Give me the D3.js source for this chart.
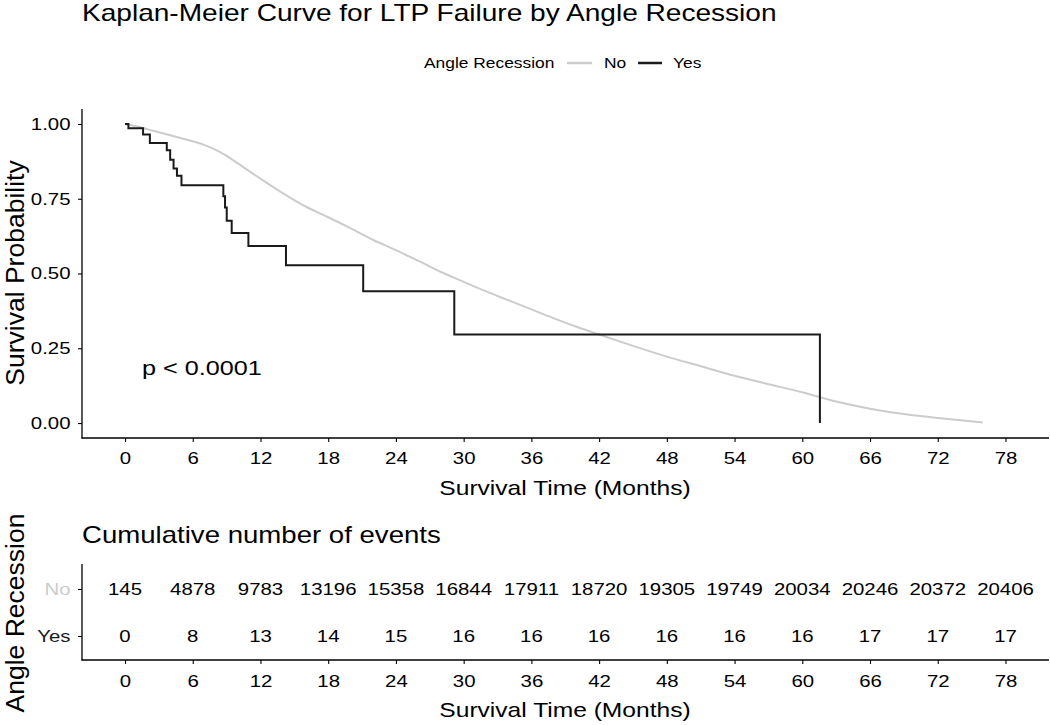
<!DOCTYPE html>
<html>
<head>
<meta charset="utf-8">
<script src="https://cdn.jsdelivr.net/npm/d3@7"></script>
<style>
  html, body { margin: 0; padding: 0; background: #fff; }
  svg { display: block; }
  text { font-family: "Liberation Sans", Arial, sans-serif; fill: #000; }
</style>
</head>
<body>
<svg id="chart" width="1050" height="725"></svg>
<script>
// ---------------- data ----------------
const monthTicks = [0, 6, 12, 18, 24, 30, 36, 42, 48, 54, 60, 66, 72, 78];
const probTicks = [0, 0.25, 0.5, 0.75, 1.0];
const probLabels = ["0.00", "0.25", "0.50", "0.75", "1.00"];
const groups = ["No", "Yes"];

// Angle Recession = Yes (Kaplan-Meier step points: time, survival after event)
const yesTime = [0, 0.3, 1.6, 2.2, 3.7, 4.0, 4.3, 4.6, 5.0, 8.71, 8.86, 9.01, 9.45, 10.93, 14.26, 21.1, 29.17, 61.56];
const yesSurv = [1.0, 0.986, 0.965, 0.936, 0.912, 0.880, 0.851, 0.827, 0.795, 0.758, 0.721, 0.676, 0.635, 0.592, 0.528, 0.441, 0.296, 0.0];

// Angle Recession = No (very large group, curve)
const noTime = [0, 1, 2, 3, 4, 5, 6, 7, 8, 9, 10, 12, 14, 16, 18, 20, 22, 24, 26, 28, 30, 32, 34, 36, 38, 40, 42, 45, 48, 51, 54, 57, 60, 63, 66, 69, 72, 76];
const noSurv = [1.0, 0.992, 0.982, 0.972, 0.962, 0.952, 0.942, 0.930, 0.914, 0.893, 0.868, 0.817, 0.768, 0.724, 0.688, 0.651, 0.612, 0.578, 0.542, 0.505, 0.472, 0.440, 0.410, 0.380, 0.350, 0.322, 0.296, 0.258, 0.222, 0.190, 0.158, 0.130, 0.103, 0.072, 0.048, 0.030, 0.017, 0.002];

// Cumulative number of events table
const noEvents = [145, 4878, 9783, 13196, 15358, 16844, 17911, 18720, 19305, 19749, 20034, 20246, 20372, 20406];
const yesEvents = [0, 8, 13, 14, 15, 16, 16, 16, 16, 16, 16, 17, 17, 17];

// ---------------- styles ----------------
const SX = 1.2;              // horizontal glyph stretch seen in the picture
const colNo = "#cccccc";
const colYes = "#1a1a1a";

const svg = d3.select("#chart");

function label(x, y, str, size, opts = {}) {
  const tr = opts.rotate ? `translate(${x},${y}) rotate(-90)` : `translate(${x},${y}) scale(${SX},1)`;
  const t = svg.append("text")
    .attr("transform", tr)
    .attr("font-size", size)
    .attr("text-anchor", opts.anchor || "start")
    .text(str);
  if (opts.fill) t.style("fill", opts.fill);
  return t;
}

// ---------------- scales ----------------
const x = d3.scaleLinear().domain([-3.9, 81.9]).range([81, 1049.5]);
const y = d3.scaleLinear().domain([-0.05, 1.05]).range([438, 109]);

// ---------------- title & legend ----------------
label(82, 21, "Kaplan-Meier Curve for LTP Failure by Angle Recession", 23.4);
label(424, 68, "Angle Recession", 14.5);
svg.append("line").attr("x1", 567).attr("x2", 592).attr("y1", 63).attr("y2", 63)
  .attr("stroke", colNo).attr("stroke-width", 2.5);
label(604, 68, "No", 14.5);
svg.append("line").attr("x1", 638).attr("x2", 662).attr("y1", 63).attr("y2", 63)
  .attr("stroke", colYes).attr("stroke-width", 2.5);
label(673, 68, "Yes", 14.5);

// ---------------- main panel ----------------
const gMain = svg.append("g");

const noData = noTime.map((t, i) => [t, noSurv[i]]);
const yesData = yesTime.map((t, i) => [t, yesSurv[i]]);

gMain.append("path")
  .datum(noData)
  .attr("fill", "none")
  .attr("stroke", colNo)
  .attr("stroke-width", 2)
  .attr("d", d3.line().x(d => x(d[0])).y(d => y(d[1])).curve(d3.curveMonotoneX));

gMain.append("path")
  .datum(yesData)
  .attr("fill", "none")
  .attr("stroke", colYes)
  .attr("stroke-width", 2)
  .attr("d", d3.line().x(d => x(d[0])).y(d => y(d[1])).curve(d3.curveStepAfter));

// axes
const xAxisMain = gMain.append("g").attr("transform", "translate(0,438)")
  .call(d3.axisBottom(x).tickValues(monthTicks).tickSize(4).tickPadding(10).tickFormat(d3.format("d")));
const yAxisMain = gMain.append("g").attr("transform", "translate(82,0)")
  .call(d3.axisLeft(y).tickValues(probTicks).tickSize(4).tickFormat((d, i) => probLabels[i]));

function styleAxis(g, orient, size) {
  g.select(".domain").remove();
  g.selectAll(".tick line").attr("stroke", "#000").attr("stroke-width", 1.1);
  g.selectAll(".tick text").attr("font-size", size).attr("font-family", null);
  g.selectAll(".tick text").each(function () {
    const t = d3.select(this);
    if (orient === "left") {
      t.attr("x", null).attr("transform", `translate(-11.5,0) scale(${SX},1)`);
    } else {
      t.attr("transform", `scale(${SX},1)`);
    }
  });
}
styleAxis(xAxisMain, "bottom", 17);
styleAxis(yAxisMain, "left", 17);

gMain.append("line").attr("x1", 82).attr("x2", 82).attr("y1", 109).attr("y2", 438.5)
  .attr("stroke", "#000").attr("stroke-width", 1.3);
gMain.append("line").attr("x1", 81.5).attr("x2", 1049).attr("y1", 438).attr("y2", 438)
  .attr("stroke", "#000").attr("stroke-width", 1.3);

// p value
label(142, 375, "p < 0.0001", 21);

// axis titles
label(565, 495, "Survival Time (Months)", 20.5, { anchor: "middle" });
label(24, 273, "Survival Probability", 26.5, { anchor: "middle", rotate: true });

// ---------------- cumulative events table ----------------
label(82, 543, "Cumulative number of events", 23);

const yT = d3.scalePoint().domain(groups).range([589, 636]);

const gTab = svg.append("g");
const tabRows = [noEvents, yesEvents];
groups.forEach((gname, gi) => {
  tabRows[gi].forEach((v, i) => {
    gTab.append("text")
      .attr("transform", `translate(${x(monthTicks[i])},${yT(gname) + 6}) scale(${SX},1)`)
      .attr("text-anchor", "middle")
      .attr("font-size", 17)
      .text(v);
  });
});

const xAxisTab = gTab.append("g").attr("transform", "translate(0,660)")
  .call(d3.axisBottom(x).tickValues(monthTicks).tickSize(4).tickPadding(11).tickFormat(d3.format("d")));
const yAxisTab = gTab.append("g").attr("transform", "translate(82,0)")
  .call(d3.axisLeft(yT).tickSize(4));
styleAxis(xAxisTab, "bottom", 17);
styleAxis(yAxisTab, "left", 17);
yAxisTab.selectAll(".tick text").style("fill", (d) => d === "No" ? colNo : colYes);

gTab.append("line").attr("x1", 82).attr("x2", 82).attr("y1", 564).attr("y2", 660.5)
  .attr("stroke", "#000").attr("stroke-width", 1.3);
gTab.append("line").attr("x1", 81.5).attr("x2", 1049).attr("y1", 660).attr("y2", 660)
  .attr("stroke", "#000").attr("stroke-width", 1.3);

label(565, 717, "Survival Time (Months)", 20.5, { anchor: "middle" });
label(24, 613, "Angle Recession", 26.5, { anchor: "middle", rotate: true });
</script>
</body>
</html>
